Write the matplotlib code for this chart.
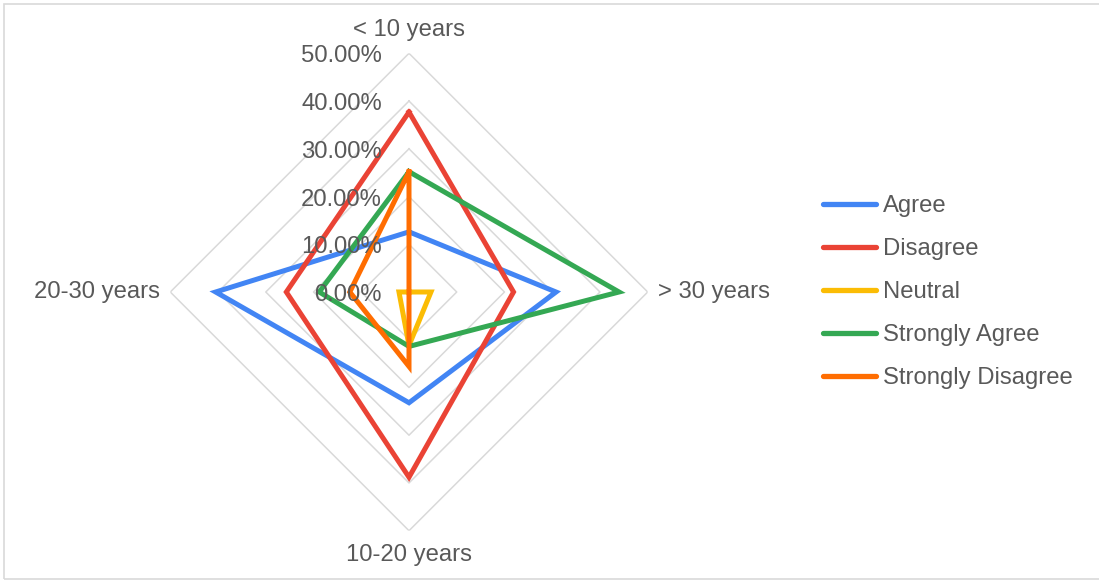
import numpy as np
import matplotlib
matplotlib.use("Agg")
import matplotlib.pyplot as plt
from matplotlib.lines import Line2D
from matplotlib.patches import Rectangle

# Categories (clockwise from the top) and response shares in percent
categories = ["< 10 years", "> 30 years", "10-20 years", "20-30 years"]
agree = [12.6, 30.8, 23.2, 40.5]
disagree = [37.7, 21.9, 38.8, 25.7]
neutral = [0.0, 4.6, 11.2, 2.1]
strongly_agree = [25.2, 44.0, 11.4, 18.8]
strongly_disagree = [25.2, 0.0, 15.6, 12.4]

series_names = ["Agree", "Disagree", "Neutral", "Strongly Agree", "Strongly Disagree"]
series_values = [agree, disagree, neutral, strongly_agree, strongly_disagree]
series_colors = ["#4285F4", "#EA4335", "#FBBC04", "#34A853", "#FF6D01"]

ring_values = [10, 20, 30, 40, 50]
ring_labels = ["0.00%", "10.00%", "20.00%", "30.00%", "40.00%", "50.00%"]

plt.rcParams["font.family"] = ["Liberation Sans", "DejaVu Sans"]
TEXT = "#595959"
GRID = "#D9D9D9"
FS = 17.2

W, H = 1099, 581
fig = plt.figure(figsize=(W / 100, H / 100), dpi=100)

# outer chart border
fig.patches.append(Rectangle((4 / W, 2 / H), 1.2, (H - 6) / H, transform=fig.transFigure,
                             fill=False, edgecolor=GRID, linewidth=1.2))

cx, cy, rad = 409, H - 292, 238.7
ax = fig.add_axes([(cx - rad) / W, (cy - rad) / H, 2 * rad / W, 2 * rad / H],
                  projection="polar")
ax.set_theta_zero_location("N")
ax.set_theta_direction(-1)
ax.set_ylim(0, 50)
ax.grid(False)
ax.spines["polar"].set_visible(False)
ax.set_xticks([])
ax.set_yticks([])
ax.patch.set_alpha(0)

n = len(categories)
angles = np.arange(n) * 2 * np.pi / n
closed = np.append(angles, angles[0])

# diamond-shaped grid rings
for r in ring_values:
    ax.plot(closed, [r] * (n + 1), color=GRID, linewidth=1.1, zorder=1)

# radial value labels along the top spoke
for r, lab in zip([0] + ring_values, ring_labels):
    ax.annotate(lab, xy=(0, r), xytext=(-27, -3), textcoords="offset pixels",
                ha="right", va="center", fontsize=FS, color=TEXT, zorder=5)

# category labels
offsets = [(0, 23, "center", "center"), (10, 0, "left", "center"),
           (0, -24, "center", "center"), (-10, 0, "right", "center")]
for ang, cat, (dx, dy, ha, va) in zip(angles, categories, offsets):
    ax.annotate(cat, xy=(ang, 50), xytext=(dx, dy), textcoords="offset pixels",
                ha=ha, va=va, fontsize=FS, color=TEXT, annotation_clip=False)

# data series
for name, vals, col in zip(series_names, series_values, series_colors):
    ax.plot(closed, vals + vals[:1], color=col, linewidth=3.6,
            solid_joinstyle="miter", zorder=3, label=name, clip_on=False)

handles = [Line2D([], [], color=c, linewidth=3.8, solid_capstyle="round")
           for c in series_colors]
leg = fig.legend(handles, series_names, loc="center left",
                 bbox_to_anchor=(823 / W, (H - 292) / H), frameon=False,
                 fontsize=FS, handlelength=2.2, handletextpad=0.3,
                 labelspacing=0.88, borderpad=0, borderaxespad=0)
for t in leg.get_texts():
    t.set_color(TEXT)

fig.savefig("out.png", dpi=100, facecolor="white")
